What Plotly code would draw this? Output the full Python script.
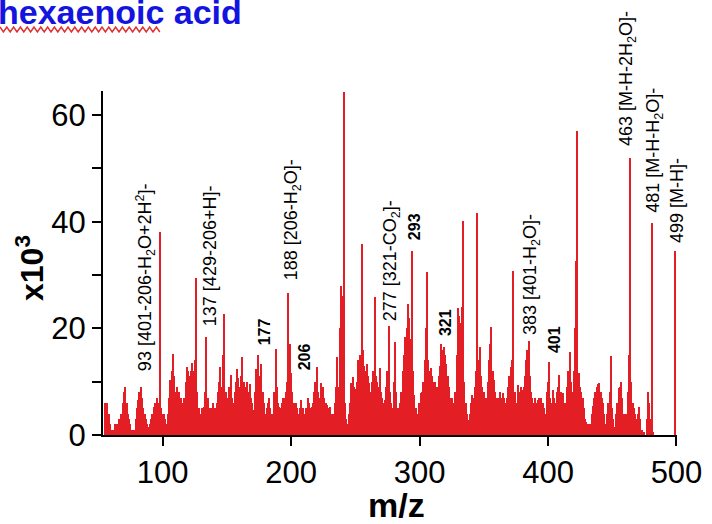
import plotly.graph_objects as go

# ---- data (intensity in x10^3, one value per integer m/z from 55 to 500) ----
mz_start = 55
intensity_rows = [
    [6, 6, 6, 4, 2, 1, 1, 1, 2, 2],                    # 55-64
    [2, 3, 3, 4, 6, 8, 9, 6, 4, 3],                    # 65-74
    [2, 1, 0.5, 1, 3, 5, 6.5, 8, 9, 7],                # 75-84
    [5, 4, 3, 2, 1.5, 2, 3, 4, 5.3, 6],                # 85-94
    [6, 7, 6, 38, 5, 4, 4, 3, 2, 4],                   # 95-104
    [7, 10.3, 12, 15.2, 11, 8, 9, 8, 8, 7],            # 105-114
    [6, 5, 7, 10, 12.7, 12, 11, 12, 13.5, 12],         # 115-124
    [14, 29.5, 8, 5, 2.5, 4, 5, 5.3, 8, 18.3],         # 125-134
    [7, 5, 4.7, 5, 6, 4, 5, 6, 8, 10],                 # 135-144
    [12.7, 9, 15, 22.7, 8, 6, 7, 9, 11.2, 7],          # 145-154
    [6, 8, 10, 12.4, 10.6, 9, 11, 14.6, 10, 9],        # 155-164
    [8, 10, 8, 9.5, 7, 6, 4.7, 8, 12.4, 15],           # 165-174
    [11, 10, 13.4, 8, 6, 4, 5, 6, 7, 5],               # 175-184
    [4, 3.5, 8, 16.2, 9, 6, 5.3, 5, 6, 7],             # 185-194
    [7, 8, 10, 26.6, 17, 11.6, 8, 6, 5, 6],            # 195-204
    [5, 4, 5, 6.5, 5, 4, 3.7, 5, 7, 6],                # 205-214
    [5, 5.3, 6, 8, 10, 12.7, 8, 7, 9.7, 7],            # 215-224
    [9, 7, 6, 5.6, 5, 5.3, 4, 3.7, 4, 6],              # 225-234
    [9, 14.6, 9, 20, 28, 26, 64.4, 6, 3, 2],           # 235-244
    [4, 6, 9.7, 10.9, 9, 8.7, 10, 14, 12, 15],         # 245-254
    [35.9, 16, 13, 12, 13.4, 11, 9.7, 8, 10, 12],      # 255-264
    [25.8, 11, 10, 9, 12.5, 8, 7, 6, 6.5, 9],          # 265-274
    [12, 20.4, 8, 6, 5, 10, 17.4, 8, 5, 3],            # 275-284
    [6, 8, 12, 15, 18.3, 20, 24.6, 22, 18, 34.5],      # 285-294
    [12, 7.5, 5, 3.4, 4, 6, 7.8, 8, 10, 14],           # 295-304
    [20, 30.5, 14, 12, 12.5, 11, 10, 10, 9, 9],        # 305-314
    [11, 13, 17.1, 16, 16.5, 15, 13.4, 11, 9, 7],      # 315-324
    [7, 6, 5.3, 8, 15, 23.9, 22.4, 21, 24, 40.1],      # 325-334
    [10, 6, 4, 2.8, 4, 6, 7.5, 7, 9, 12],              # 335-344
    [41.7, 14, 16.5, 11, 9, 8, 7, 7, 10, 14],          # 345-354
    [17, 20.3, 12, 10.3, 8, 7, 6.5, 7, 8, 7],          # 355-364
    [7.8, 7, 6, 7, 9, 11, 12.7, 14, 30.7, 8],          # 365-374
    [3, 6, 9.3, 8, 9, 8.5, 9, 11, 14, 16],             # 375-384
    [17.7, 11, 8, 6.9, 6, 7, 6, 6.5, 7, 5],            # 385-394
    [6.9, 6, 5, 4, 8, 10, 13.7, 7, 6, 8.4],            # 395-404
    [7, 6, 8, 9, 11.2, 8, 6, 7.8, 6, 5.6],             # 405-414
    [9, 12, 15.5, 10, 8, 12, 20, 32.6, 57, 11.6],      # 415-424
    [9, 8, 7, 5, 3, 2.5, 2, 1, 2, 4],                  # 425-434
    [5.5, 7, 8, 9, 9.5, 9.7, 8, 7, 6, 4],              # 435-444
    [2, 4, 6, 8, 14.9, 5, 3, 1.5, 4, 6],               # 445-454
    [8.8, 9, 10, 7, 4, 3, 4, 8, 15, 51.9],             # 455-464
    [10, 6, 5, 4, 3, 4, 5.3, 3, 1, 0.5],               # 465-474
    [0.5, 0, 3, 8, 6, 3, 39.8, 0.5, 0, 0],             # 475-484
    [0, 0, 0, 0, 0, 0, 0, 0, 0, 0],                    # 485-494
    [0, 0, 0, 0, 34.5, 0],                             # 495-500
]
intensity = [v for row in intensity_rows for v in row]
mz = list(range(mz_start, mz_start + len(intensity)))

# peak labels: text, m/z position, bottom of label (x10^3), bold?
label_texts = [
    "93 [401-206-H<sub>2</sub>O+2H<sup>2</sup>]-",
    "137 [429-206+H]-",
    "177",
    "188 [206-H<sub>2</sub>O]-",
    "206",
    "277 [321-CO<sub>2</sub>]-",
    "293",
    "321",
    "383 [401-H<sub>2</sub>O]-",
    "401",
    "463 [M-H-2H<sub>2</sub>O]-",
    "481 [M-H-H<sub>2</sub>O]-",
    "499 [M-H]-",
]
label_mz = [86.2, 136.7, 179.5, 201.3, 210.6, 278.3, 296.2, 320.3, 387.2, 405.1, 461.9, 482.9, 500]
label_base = [11.6, 20.1, 16.5, 28.7, 11.8, 21.0, 36.2, 18.2, 18.4, 15.0, 53.8, 41.3, 35.6]
label_bold = [False, False, True, False, True, False, True, True, False, True, False, False, False]

x_ticks = [100, 200, 300, 400, 500]
y_ticks = [0, 20, 40, 60]

RED = "#E41E25"
FONT = "Liberation Sans, Arial, sans-serif"

fig = go.Figure()
fig.add_trace(go.Bar(
    x=mz, y=intensity, width=1.0,
    marker=dict(color=RED, line=dict(width=0)),
    hoverinfo="skip",
))

W, H = 712, 524
ml, mr, mt, mb = 103, 35, 91, 89
pw, ph = W - ml - mr, H - mt - mb

def px2paper_x(px):
    return (px - ml) / pw

def px2paper_y(py):
    return (H - mb - py) / ph

annotations = []
for t, x, yb, b in zip(label_texts, label_mz, label_base, label_bold):
    annotations.append(dict(
        x=x, y=yb, xref="x", yref="y", text=(f"<b>{t}</b>" if b else t),
        textangle=-90, showarrow=False, xanchor="center", yanchor="bottom",
        font=dict(family=FONT, size=(16 if b else 18), color="black"),
    ))

# axis titles
annotations.append(dict(
    x=px2paper_x(396), y=px2paper_y(505), xref="paper", yref="paper",
    text="<b>m/z</b>", showarrow=False, xanchor="center", yanchor="middle",
    font=dict(family=FONT, size=34, color="black"),
))
annotations.append(dict(
    x=px2paper_x(30), y=px2paper_y(268), xref="paper", yref="paper",
    text="<b>x10<sup>3</sup></b>", showarrow=False, textangle=-90,
    xanchor="center", yanchor="middle",
    font=dict(family=FONT, size=32, color="black"),
))
# clipped heading at top-left
annotations.append(dict(
    x=px2paper_x(-4), y=px2paper_y(12), xref="paper", yref="paper",
    text="<b>hexaenoic acid</b>", showarrow=False, xanchor="left", yanchor="middle",
    font=dict(family=FONT, size=34, color="#1414E0"),
))

# spell-check squiggle under "hexaenoic"
pts = []
px = 0.0
k = 0
while px <= 163:
    py = 27 if k % 2 == 0 else 32
    pts.append((px2paper_x(px), px2paper_y(py)))
    px += 3.4
    k += 1
path = "M " + " L ".join(f"{a:.5f},{b:.5f}" for a, b in pts)

fig.update_layout(
    width=W, height=H,
    margin=dict(l=ml, r=mr, t=mt, b=mb, pad=0, autoexpand=False),
    plot_bgcolor="white", paper_bgcolor="white",
    showlegend=False, bargap=0,
    annotations=annotations,
    shapes=[dict(type="path", path=path, xref="paper", yref="paper",
                 line=dict(color="#E03030", width=1.5))],
    xaxis=dict(
        range=[53.5, 500.4], tickvals=x_ticks, ticktext=[str(v) for v in x_ticks],
        automargin=False,
        showgrid=False, zeroline=False, showline=True, linecolor="black", linewidth=2,
        ticks="outside", ticklen=9, tickwidth=2, tickcolor="black",
        tickfont=dict(family=FONT, size=31, color="black"),
    ),
    yaxis=dict(
        range=[0, 64.5], tickvals=y_ticks, ticktext=[str(v) for v in y_ticks],
        automargin=False,
        showgrid=False, zeroline=False, showline=True, linecolor="black", linewidth=2,
        ticks="outside", ticklen=9, tickwidth=2, tickcolor="black",
        minor=dict(dtick=10, tick0=0, ticks="outside", ticklen=9, tickwidth=2, tickcolor="black"),
        tickfont=dict(family=FONT, size=31, color="black"),
    ),
)

fig.write_html("out.html", config={"displayModeBar": False},
               post_script="document.body.style.margin='0px';")
